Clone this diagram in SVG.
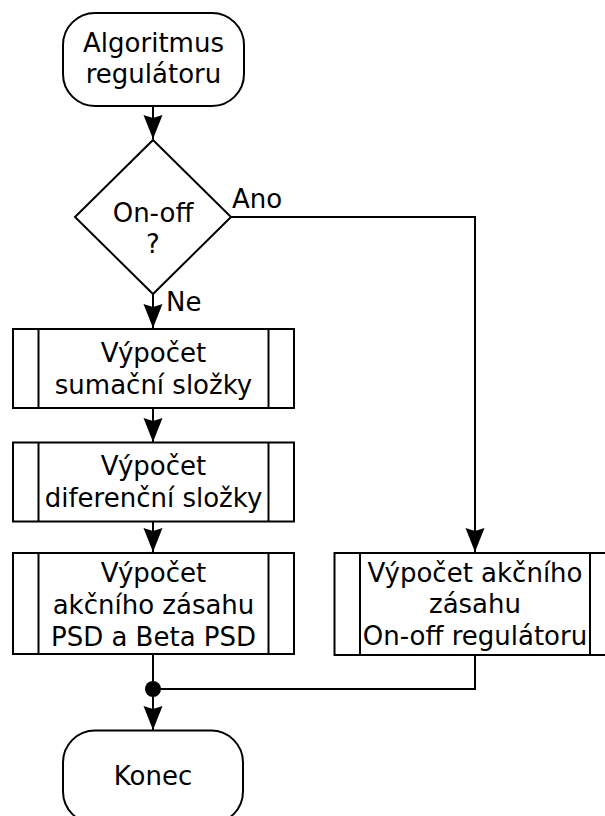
<svg xmlns="http://www.w3.org/2000/svg" width="605" height="816" viewBox="0 0 605 816">
  <style>
    .shape { fill: #ffffff; stroke: #000000; stroke-width: 2; }
    .line { fill: none; stroke: #000000; stroke-width: 2; }
    .conn { fill: none; stroke: #000000; stroke-width: 2; }
    text { font-family: "DejaVu Sans", "Liberation Sans", sans-serif; font-size: 26px; fill: #000000; }
    .c { text-anchor: middle; }
  </style>
  <defs>
    <marker id="arrow" markerUnits="userSpaceOnUse" viewBox="-25 -11 27 22" refX="0" refY="0" markerWidth="27" markerHeight="22" orient="auto">
      <path d="M0,0 L-24,-9.5 L-21,0 L-24,9.5 Z" fill="#000000"/>
    </marker>
  </defs>
  <rect width="605" height="816" fill="#ffffff"/>

  <g id="connectors">
    <path class="conn" d="M153,106 L153,139" marker-end="url(#arrow)"/>
    <path class="conn" d="M153,294 L153,328" marker-end="url(#arrow)"/>
    <path class="conn" d="M153,408 L153,442" marker-end="url(#arrow)"/>
    <path class="conn" d="M153,522 L153,552" marker-end="url(#arrow)"/>
    <path class="conn" d="M231,217 L475,217 L475,552" marker-end="url(#arrow)"/>
    <path class="conn" d="M153,654 L153,730" marker-end="url(#arrow)"/>
    <path class="conn" d="M475,655 L475,689 L153,689"/>
    <circle cx="153" cy="689" r="8" fill="#000000"/>
    <text x="232" y="208">Ano</text>
    <text x="166" y="311">Ne</text>
  </g>

  <g id="start">
    <rect class="shape" x="63" y="13" width="181" height="93" rx="32" ry="32"/>
    <text class="c" x="153.5" y="51.5">Algoritmus</text>
    <text class="c" x="153.5" y="82.5">regulátoru</text>
  </g>

  <g id="decision">
    <polygon class="shape" points="153,140 231,217 153,294 75,217"/>
    <text class="c" x="153" y="221.5">On-off</text>
    <text class="c" x="153" y="253">?</text>
  </g>

  <g id="sum">
    <rect class="shape" x="13" y="329" width="281" height="79"/>
    <line class="line" x1="38.5" y1="329" x2="38.5" y2="408"/>
    <line class="line" x1="268.5" y1="329" x2="268.5" y2="408"/>
    <text class="c" x="153.5" y="361.5">Výpočet</text>
    <text class="c" x="153.5" y="393.5">sumační složky</text>
  </g>

  <g id="diff">
    <rect class="shape" x="13" y="442.5" width="281" height="79"/>
    <line class="line" x1="38.5" y1="442.5" x2="38.5" y2="521.5"/>
    <line class="line" x1="268.5" y1="442.5" x2="268.5" y2="521.5"/>
    <text class="c" x="153.5" y="475">Výpočet</text>
    <text class="c" x="153.5" y="507">diferenční složky</text>
  </g>

  <g id="psd">
    <rect class="shape" x="13" y="553" width="281" height="101"/>
    <line class="line" x1="38.5" y1="553" x2="38.5" y2="654"/>
    <line class="line" x1="268.5" y1="553" x2="268.5" y2="654"/>
    <text class="c" x="153.5" y="581.5">Výpočet</text>
    <text class="c" x="153.5" y="613.5">akčního zásahu</text>
    <text class="c" x="153.5" y="645.5">PSD a Beta PSD</text>
  </g>

  <g id="onoff">
    <rect class="shape" x="334.5" y="553" width="281" height="102"/>
    <line class="line" x1="360" y1="553" x2="360" y2="655"/>
    <line class="line" x1="590" y1="553" x2="590" y2="655"/>
    <text class="c" x="475" y="581.5">Výpočet akčního</text>
    <text class="c" x="475" y="613">zásahu</text>
    <text class="c" x="475" y="644.5">On-off regulátoru</text>
  </g>

  <g id="end">
    <rect class="shape" x="63" y="730.5" width="180" height="93" rx="32" ry="32"/>
    <text class="c" x="153" y="785">Konec</text>
  </g>
</svg>
